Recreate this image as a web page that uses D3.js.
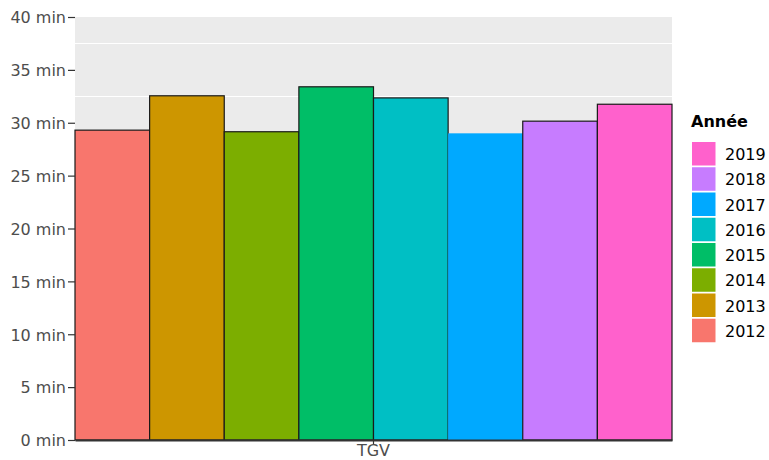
<!DOCTYPE html>
<html>
<head>
<meta charset="utf-8">
<script src="https://cdn.jsdelivr.net/npm/d3@7"></script>
<style>
  html, body { margin: 0; padding: 0; background: #fff; }
  svg { display: block; font-family: "DejaVu Sans", sans-serif; }
</style>
</head>
<body>
<svg id="chart" width="769" height="460"></svg>
<script>
const categories = ["TGV"];
const years = ["2012", "2013", "2014", "2015", "2016", "2017", "2018", "2019"];
const values = [29.3, 32.55, 29.15, 33.4, 32.35, 29.0, 30.15, 31.75];
const colors = ["#F8766D", "#CD9600", "#7CAE00", "#00BE67", "#00BFC4", "#00A9FF", "#C77CFF", "#FF61CC"];
const yTicks = [0, 5, 10, 15, 20, 25, 30, 35, 40];
const legendTitle = "Année";

const svg = d3.select("#chart");
const panel = { left: 75, right: 672, top: 17, bottom: 440 };

const x = d3.scaleBand().domain(categories).range([panel.left, panel.right]).padding(0);
const xi = d3.scaleBand().domain(years).range([0, x.bandwidth()]).padding(0);
const y = d3.scaleLinear().domain([0, 40]).range([panel.bottom, panel.top]);
const color = d3.scaleOrdinal().domain(years).range(colors);

// panel background
svg.append("rect")
  .attr("x", panel.left).attr("y", panel.top)
  .attr("width", panel.right - panel.left).attr("height", panel.bottom - panel.top)
  .attr("fill", "#EBEBEB");

// minor grid lines
const minor = yTicks.slice(0, -1).map((t, i) => (t + yTicks[i + 1]) / 2);
svg.append("g").selectAll("line").data(minor).join("line")
  .attr("x1", panel.left).attr("x2", panel.right)
  .attr("y1", d => Math.round(y(d)) + 0.5).attr("y2", d => Math.round(y(d)) + 0.5)
  .attr("stroke", "#fff").attr("stroke-width", 1.1);

// bars
const data = years.map((yr, i) => ({ cat: categories[0], year: yr, value: values[i] }));
svg.append("g").selectAll("rect").data(data).join("rect")
  .attr("x", d => x(d.cat) + xi(d.year))
  .attr("y", d => y(d.value))
  .attr("width", xi.bandwidth())
  .attr("height", d => y(0) - y(d.value))
  .attr("fill", d => color(d.year))
  .attr("stroke", d => d.year === "2017" ? "none" : "#1a1a1a")
  .attr("stroke-width", 1.2);

// y axis
const yAxis = svg.append("g")
  .attr("transform", `translate(${panel.left},0)`)
  .call(d3.axisLeft(y).tickValues(yTicks).tickFormat(d => d + " min").tickSize(7).tickPadding(2));
yAxis.select(".domain").remove();
yAxis.selectAll(".tick line").attr("stroke", "#333").attr("stroke-width", 1.2);
yAxis.selectAll(".tick text")
  .attr("fill", "#4D4D4D").attr("font-size", 16)
  .attr("font-family", "DejaVu Sans, sans-serif")
  .attr("dy", "0.36em");

// x axis
const xAxis = svg.append("g")
  .attr("transform", `translate(0,${panel.bottom})`)
  .call(d3.axisBottom(x).tickSize(5).tickSizeOuter(0).tickPadding(1));
xAxis.select(".domain").attr("stroke", "#333").attr("stroke-width", 2);
xAxis.selectAll(".tick line").attr("stroke", "#333").attr("stroke-width", 1.2);
xAxis.selectAll(".tick text")
  .attr("fill", "#4D4D4D").attr("font-size", 16)
  .attr("font-family", "DejaVu Sans, sans-serif")
  .attr("dy", "0.62em");

// legend
const legend = svg.append("g");
legend.append("text")
  .attr("x", 691).attr("y", 127)
  .attr("font-size", 16).attr("font-weight", "bold").attr("fill", "#000")
  .text(legendTitle);
const legendYears = years.slice().reverse();
const step = 25.25;
const items = legend.selectAll("g.item").data(legendYears).join("g")
  .attr("class", "item")
  .attr("transform", (d, i) => `translate(692,${142 + i * step})`);
items.append("rect")
  .attr("width", 23.5).attr("height", 23.5)
  .attr("fill", d => color(d));
items.append("text")
  .attr("x", 33).attr("y", 12 + 6)
  .attr("font-size", 16).attr("fill", "#000")
  .text(d => d);
</script>
</body>
</html>
